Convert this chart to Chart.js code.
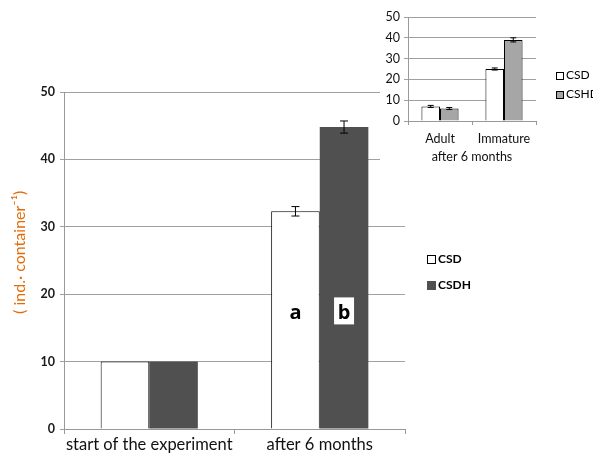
<!DOCTYPE html>
<html>
<head>
<meta charset="utf-8">
<script src="https://cdn.jsdelivr.net/npm/chart.js@4.4.1/dist/chart.umd.min.js"></script>
<style>
  body { margin: 0; background: #fff; font-family: Lato, sans-serif; }
  #wrap { position: relative; width: 593px; height: 457px; overflow: hidden; }
  #inset { position: absolute; left: 380px; top: 0; width: 213px; height: 170px; background: #fff; }
  .leg { position: absolute; font-size: 12px; line-height: 12px; white-space: nowrap; }
  .leg i { display: inline-block; width: 7px; height: 7px; border: 1px solid #000; margin-right: 2px; vertical-align: -1px; }
</style>
</head>
<body>
<div id="wrap">
  <canvas id="main" width="593" height="457"></canvas>
  <div class="leg" style="left:427px; top:253px; font-weight:bold;"><i style="background:#fff"></i>CSD</div>
  <div class="leg" style="left:427px; top:279px; font-weight:bold;"><i style="background:#505050; border-color:#505050"></i>CSDH</div>
  <div id="inset">
    <canvas id="small" width="213" height="170"></canvas>
    <div class="leg" style="left:176px; top:69px; font-size:12px;"><i style="width:6px;height:6px;background:#fff"></i>CSD</div>
    <div class="leg" style="left:176px; top:88px; font-size:12px;"><i style="width:6px;height:6px;background:#a6a6a6"></i>CSHD</div>
  </div>
</div>
<script>
// main chart data
const mainLabels = ['start of the experiment', 'after 6 months'];
const csd = [10, 32.3];
const csdh = [10, 44.8];
const csdErr = [0, 0.7];
const csdhErr = [0, 0.9];
const letters = ['a', 'b'];

// inset data
const insetLabels = ['Adult', 'Immature'];
const insetCsd = [7, 25];
const insetCshd = [6, 39];
const insetCsdErr = [0.5, 0.5];
const insetCshdErr = [0.5, 1];

const errorBars = {
  id: 'errorBars',
  afterDatasetsDraw(chart, args, opts) {
    const ctx = chart.ctx;
    const y = chart.scales.y;
    ctx.save();
    ctx.strokeStyle = '#000';
    ctx.lineWidth = 1;
    chart.data.datasets.forEach((ds, i) => {
      const meta = chart.getDatasetMeta(i);
      meta.data.forEach((bar, j) => {
        const e = ds.errors[j];
        if (!e) return;
        const top = y.getPixelForValue(ds.data[j] + e);
        const bot = y.getPixelForValue(ds.data[j] - e);
        const w = opts.cap;
        ctx.beginPath();
        ctx.moveTo(bar.x, top); ctx.lineTo(bar.x, bot);
        ctx.moveTo(bar.x - w / 2, top); ctx.lineTo(bar.x + w / 2, top);
        ctx.moveTo(bar.x - w / 2, bot); ctx.lineTo(bar.x + w / 2, bot);
        ctx.stroke();
      });
    });
    ctx.restore();
  }
};

const letterMarks = {
  id: 'letterMarks',
  afterDatasetsDraw(chart) {
    if (chart.canvas.id !== 'main') return;
    const ctx = chart.ctx;
    const yPix = chart.scales.y.getPixelForValue(17.3);
    ctx.save();
    ctx.font = 'bold 20px "Open Sans", sans-serif';
    ctx.textAlign = 'center';
    ctx.textBaseline = 'middle';
    letters.forEach((t, i) => {
      const bar = chart.getDatasetMeta(i).data[1];
      if (i === 1) {
        ctx.fillStyle = '#fff';
        ctx.fillRect(bar.x - 10, yPix - 15, 20, 27);
      }
      ctx.fillStyle = '#000';
      ctx.fillText(t, bar.x, yPix + 1);
    });
    ctx.restore();
  }
};

new Chart(document.getElementById('main'), {
  type: 'bar',
  data: {
    labels: mainLabels,
    datasets: [
      { label: 'CSD', data: csd, errors: csdErr, backgroundColor: '#fff', borderColor: '#000', borderWidth: 1 },
      { label: 'CSDH', data: csdh, errors: csdhErr, backgroundColor: '#505050', borderWidth: 0 }
    ]
  },
  options: {
    responsive: false,
    animation: false,
    categoryPercentage: 0.57,
    barPercentage: 1,
    layout: { padding: { top: 92, right: 188, left: 0, bottom: 0 } },
    plugins: { legend: { display: false }, tooltip: { enabled: false }, errorBars: { cap: 8 } },
    scales: {
      x: {
        afterFit(s) { s.height = 28; },
        grid: { drawOnChartArea: false, tickLength: 5, color: '#999' },
        border: { color: '#999' },
        ticks: { color: '#111', font: { family: 'Lato', size: 16.5 }, padding: 1, maxRotation: 0 }
      },
      y: {
        min: 0, max: 50,
        afterFit(s) { s.width = 64; },
        grid: { color: '#a0a0a0', tickLength: 4 },
        border: { color: '#999' },
        ticks: { stepSize: 10, color: '#1a1a1a', font: { family: 'Lato', size: 12.5, weight: 'bold' }, padding: 5 },
        title: { display: true, text: '    ( ind.· container⁻¹)', color: '#e36c09', font: { family: 'Lato', size: 16 }, padding: { top: 10 } }
      }
    }
  },
  plugins: [errorBars, letterMarks]
});

new Chart(document.getElementById('small'), {
  type: 'bar',
  data: {
    labels: insetLabels,
    datasets: [
      { label: 'CSD', data: insetCsd, errors: insetCsdErr, backgroundColor: '#fff', borderColor: '#000', borderWidth: 1 },
      { label: 'CSHD', data: insetCshd, errors: insetCshdErr, backgroundColor: '#a6a6a6', borderColor: '#000', borderWidth: 1 }
    ]
  },
  options: {
    responsive: false,
    animation: false,
    categoryPercentage: 0.58,
    barPercentage: 1,
    layout: { padding: { top: 17, right: 57, left: 0, bottom: 0 } },
    plugins: { legend: { display: false }, tooltip: { enabled: false }, errorBars: { cap: 6 } },
    scales: {
      x: {
        afterFit(s) { s.height = 49; },
        grid: { drawOnChartArea: false, tickLength: 4, color: '#999' },
        border: { color: '#999' },
        ticks: { color: '#111', font: { family: 'Lato', size: 12.5 }, padding: 6, maxRotation: 0 },
        title: { display: true, text: 'after 6 months', color: '#111', font: { family: 'Lato', size: 12.5 }, padding: { top: 2, bottom: 6 } }
      },
      y: {
        min: 0, max: 50,
        afterFit(s) { s.width = 28; },
        grid: { color: '#a0a0a0', tickLength: 4 },
        border: { color: '#999' },
        ticks: { stepSize: 10, color: '#111', font: { family: 'Lato', size: 12.5 }, padding: 4 }
      }
    }
  },
  plugins: [errorBars]
});
</script>
</body>
</html>
